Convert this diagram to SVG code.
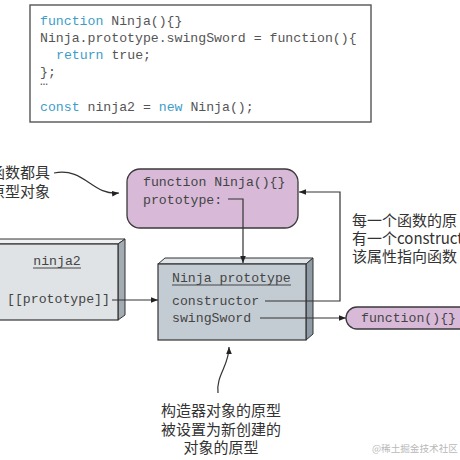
<svg xmlns="http://www.w3.org/2000/svg" width="460" height="460" viewBox="0 0 460 460">
<defs>
<style>
.code{font-family:"Liberation Mono","Courier New",monospace;font-size:13.2px;fill:#555}
.kw{fill:#3d9dc8}
.mono{font-family:"Liberation Mono","Courier New",monospace;font-size:13.2px;fill:#444}
.cjk{font-family:"Noto Sans CJK SC","Noto Sans",sans-serif;font-size:15px;fill:#333}
.wm{font-family:"Noto Sans CJK SC","Noto Sans",sans-serif;font-size:9.6px;fill:#b8b8b8}
.edge{fill:none;stroke:#333;stroke-width:1.2}
.purple{fill:#d8bad8;stroke:#3a3a3a;stroke-width:1.3}
.ul{stroke:#444;stroke-width:1}
</style>
<marker id="arr" viewBox="0 0 10 10" refX="10" refY="5" markerWidth="7" markerHeight="7" markerUnits="userSpaceOnUse" orient="auto">
<path d="M0,1 L10,5 L0,9 z" fill="#222"/>
</marker>
</defs>
<rect width="460" height="460" fill="#fff"/>

<g id="code">
<rect x="30" y="5" width="341" height="117" fill="#fff" stroke="#555" stroke-width="1.4"/>
<text class="code" x="40" y="24.5"><tspan class="kw">function</tspan> Ninja(){}</text>
<text class="code" x="40" y="42">Ninja.prototype.swingSword = function(){</text>
<text class="code" x="56" y="59"><tspan class="kw">return</tspan> true;</text>
<text class="code" x="40" y="76">};</text>
<text class="code" x="40" y="85">…</text>
<text class="code" x="40" y="111"><tspan class="kw">const</tspan> ninja2 = <tspan class="kw">new</tspan> Ninja();</text>
</g>

<g id="note-left">
<text class="cjk" x="50" y="178" text-anchor="end">函数都具</text>
<text class="cjk" x="50" y="197" text-anchor="end">原型对象</text>
</g>

<g id="note-right">
<text class="cjk" x="352" y="226">每一个函数的原</text>
<text class="cjk" x="352" y="243.5">有一个constructo</text>
<text class="cjk" x="352" y="262">该属性指向函数</text>
</g>

<g id="note-bottom">
<text class="cjk" x="221" y="416" text-anchor="middle">构造器对象的原型</text>
<text class="cjk" x="221" y="435" text-anchor="middle">被设置为新创建的</text>
<text class="cjk" x="221" y="453" text-anchor="middle">对象的原型</text>
</g>

<g id="ninja-function">
<rect class="purple" x="127" y="169" width="171" height="59" rx="13"/>
<text class="mono" x="143" y="186">function Ninja(){}</text>
<text class="mono" x="143" y="203.5">prototype:</text>
</g>

<g id="ninja-prototype">
<polygon points="158,264 165,258 313,258 306,264" fill="#dfe4e8" stroke="#333" stroke-width="1"/>
<polygon points="306,264 313,258 313,334 306,340" fill="#8f9ba4" stroke="#333" stroke-width="1"/>
<rect x="158" y="264" width="148" height="76" fill="#c4ccd3" stroke="#333" stroke-width="1.2"/>
<text class="mono" x="172" y="282">Ninja prototype</text>
<line class="ul" x1="172" y1="285" x2="291" y2="285"/>
<text class="mono" x="172" y="304.5">constructor</text>
<text class="mono" x="172" y="322">swingSword</text>
</g>

<g id="ninja2">
<polygon points="-10,244 -3,239 125,239 118,244" fill="#eef0f2" stroke="#333" stroke-width="1"/>
<polygon points="118,244 125,239 125,315 118,320" fill="#a3acb3" stroke="#333" stroke-width="1"/>
<rect x="-10" y="244" width="128" height="76" fill="#dfe3e6" stroke="#333" stroke-width="1.2"/>
<text class="mono" x="57" y="264.5" text-anchor="middle">ninja2</text>
<line class="ul" x1="33" y1="268" x2="81" y2="268"/>
<text class="mono" x="7" y="303">[[prototype]]</text>
</g>

<g id="anon-function">
<rect class="purple" x="346" y="307" width="140" height="22" rx="11"/>
<text class="mono" x="361" y="322">function(){}</text>
</g>

<g id="connectors">
<path class="edge" d="M54,173 C85,167 92,196 119,193" marker-end="url(#arr)"/>
<path class="edge" d="M228,199 H243 V263" marker-end="url(#arr)"/>
<path class="edge" d="M265,301 H340 V192 H299" marker-end="url(#arr)"/>
<path class="edge" d="M260,318 H346" marker-end="url(#arr)"/>
<path class="edge" d="M112,300 H158" marker-end="url(#arr)"/>
<path class="edge" d="M218,393 C216,375 229,366 229,347" marker-end="url(#arr)"/>
</g>

<text class="wm" x="372" y="452">@稀土掘金技术社区</text>
</svg>
